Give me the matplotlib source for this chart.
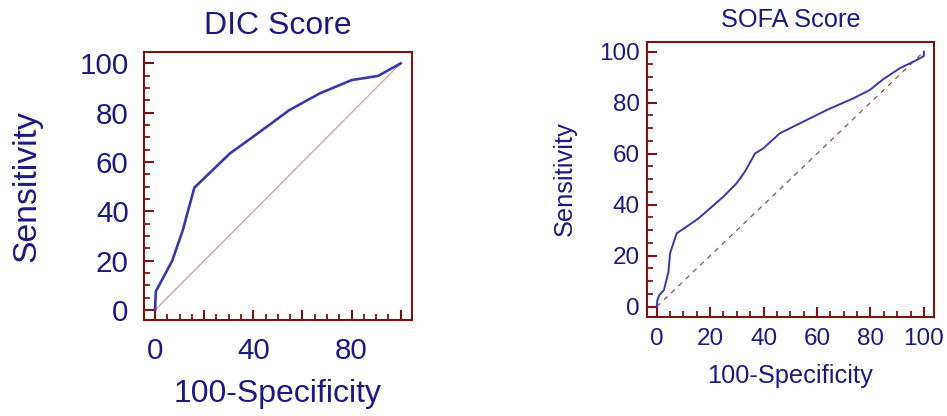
import matplotlib
matplotlib.use("Agg")
import matplotlib.pyplot as plt
from matplotlib.ticker import MultipleLocator, FixedLocator

plt.rcParams['font.family'] = ['Liberation Sans', 'DejaVu Sans']

# DIC Score ROC curve
dic_fpr = [0, 0.3, 7, 11.3, 16, 30.5, 40, 54.6, 67, 80, 90.8, 100]
dic_tpr = [0, 7.5, 20, 32.4, 49.6, 63.5, 70.3, 81, 87.8, 93.2, 94.9, 100]

# SOFA Score ROC curve
sofa_fpr = [0, 0.25, 1, 2.7, 4.4, 5, 6.2, 7.5, 11.2, 15.6, 20, 24.9, 29.9, 33,
            36.8, 39.9, 46.1, 53.6, 63.6, 73.6, 79.8, 84.8, 91, 97.3, 100, 100]
sofa_tpr = [0, 2.6, 4.6, 6.5, 13.7, 20.9, 24.8, 28.8, 31.4, 34.6, 38.6, 43.1, 48.4, 52.9,
            60.1, 62.1, 68, 71.9, 77.1, 81.7, 85, 89.2, 93.5, 96.7, 98.3, 100]

ref_line = [0, 100]

left_xticks = [0, 40, 80]
right_xticks = [0, 20, 40, 60, 80, 100]
yticks = [0, 20, 40, 60, 80, 100]

TEXT = '#1a1a80'
CURVE = '#3838a8'
FRAME = '#7a1414'

fig = plt.figure(figsize=(9.47, 4.16), dpi=100)

def style(ax, fs, xpad, ypad, xticklabels):
    for s in ax.spines.values():
        s.set_color(FRAME)
        s.set_linewidth(1.5)
    ax.xaxis.set_major_locator(FixedLocator([0, 20, 40, 60, 80, 100]))
    ax.yaxis.set_major_locator(FixedLocator(yticks))
    ax.xaxis.set_minor_locator(MultipleLocator(5))
    ax.yaxis.set_minor_locator(MultipleLocator(5))
    ax.set_xticklabels([str(t) if t in xticklabels else '' for t in [0, 20, 40, 60, 80, 100]])
    ax.tick_params(which='both', direction='in', color=FRAME, top=False, right=False)
    ax.tick_params(which='major', length=7.5, width=1.5)
    ax.tick_params(which='minor', length=4.2, width=1.3)
    ax.tick_params(axis='x', which='major', labelsize=fs, labelcolor=TEXT, pad=xpad)
    ax.tick_params(axis='y', which='major', labelsize=fs, labelcolor=TEXT, pad=ypad)

# Left panel
ax1 = fig.add_axes([144/947, 1-320/416, 268/947, 268/416])
ax1.plot(ref_line, ref_line, color='#c8a0a0', lw=0.9)
ax1.plot(dic_fpr, dic_tpr, color=CURVE, lw=1.9)
ax1.set_xlim(-4.5, 104.6)
ax1.set_ylim(-4.05, 104.6)
style(ax1, 21.3, 12, 11, left_xticks)
ax1.set_title('DIC Score', fontsize=23, color=TEXT, y=(320-34.3)/268, pad=0, va='baseline')
fig.text(278/947, 1-402/416, '100-Specificity', fontsize=23, color=TEXT, ha='center', va='baseline')
fig.text(35/947, 1-186/416, 'Sensitivity', fontsize=24.3, color=TEXT, rotation=90,
         rotation_mode='anchor', ha='center', va='baseline')

# Right panel
ax2 = fig.add_axes([646.7/947, 1-316.7/416, 287.6/947, 275/416])
ax2.plot(ref_line, ref_line, color='#8b5050', lw=0.9, ls=(0, (4, 4)))
ax2.plot(sofa_fpr, sofa_tpr, color=CURVE, lw=1.4)
ax2.set_xlim(-3.74, 103.9)
ax2.set_ylim(-3.9, 103.9)
style(ax2, 17.5, 8, 5, right_xticks)
ax2.set_title('SOFA Score', fontsize=18.3, color=TEXT, y=(316.7-26.7)/275, pad=0, va='baseline')
fig.text(790/947, 1-383/416, '100-Specificity', fontsize=18.3, color=TEXT, ha='center', va='baseline')
fig.text(571.5/947, 1-179/416, 'Sensitivity', fontsize=18.3, color=TEXT, rotation=90,
         rotation_mode='anchor', ha='center', va='baseline')

fig.savefig('out.png', dpi=100)
